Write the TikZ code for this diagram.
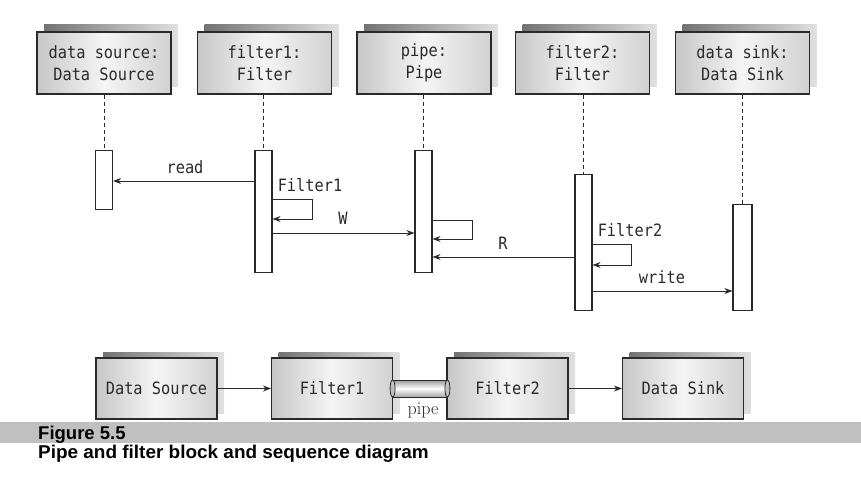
\documentclass[tikz,border=0pt]{standalone}
\usepackage{fontspec}
\newfontfamily\diagfont[FakeStretch=0.9]{DejaVu Sans Mono}
\newfontfamily\capfont{Liberation Sans}
\usetikzlibrary{arrows.meta,shadows}
\definecolor{ink}{HTML}{2A2A2A}
\definecolor{band}{HTML}{C0C0C0}
\begin{document}
\begin{tikzpicture}[x=1pt,y=-1pt,
  txt/.style={font=\diagfont\fontsize{17}{22}\selectfont, text=ink},
  boxshade/.style={left color=black!22, right color=black!18, middle color=black!4},
  objbox/.style={draw=ink, line width=1.1pt, boxshade, minimum width=134pt, minimum height=62pt,
    align=center, inner sep=0pt, txt,
    general shadow={shadow xshift=7pt, shadow yshift=7pt, left color=black!55, right color=black!12}},
  blk/.style={draw=ink, line width=1.1pt, boxshade, minimum width=121pt, minimum height=61pt,
    inner sep=0pt, txt,
    general shadow={shadow xshift=7pt, shadow yshift=6pt, left color=black!55, right color=black!12}},
  act/.style={draw=ink, line width=1.1pt, fill=white, minimum width=17pt, inner sep=0pt, anchor=north},
  life/.style={draw=ink, line width=1pt, dash pattern=on 4pt off 3pt},
  msg/.style={draw=ink, line width=1pt, -{Stealth[length=8pt,width=6pt]}},
  lbl/.style={txt, inner sep=0pt},
  captext/.style={font=\capfont\bfseries\fontsize{18.5}{20}\selectfont, inner sep=0pt, anchor=base west},
  pipebody/.style={draw=ink, line width=0.8pt, top color=black!40, bottom color=black!35, middle color=white, inner sep=0pt}
]
\useasboundingbox (0,0) rectangle (861,492);
\fill[white] (0,0) rectangle (861,492);

% object boxes
\node[objbox] (ds) at (104,63) {data source:\\Data Source};
\node[objbox] (f1) at (264.5,63) {filter1:\\Filter};
\node[objbox] (pp) at (424,63) {pipe:\\Pipe};
\node[objbox] (f2) at (582.5,63) {filter2:\\Filter};
\node[objbox] (sk) at (742.5,63) {data sink:\\Data Sink};

% activations
\node[act, minimum height=59pt] (dsA) at (104,150) {};
\node[act, minimum height=122pt] (f1A) at (263.5,150) {};
\node[act, minimum height=122pt] (pA) at (423.5,150) {};
\node[act, minimum height=136pt] (f2A) at (583.5,174) {};
\node[act, minimum height=106pt, minimum width=19pt] (skA) at (742.5,204) {};

% lifelines
\draw[life] (dsA.north |- ds.south) -- (dsA.north);
\draw[life] (f1A.north |- f1.south) -- (f1A.north);
\draw[life] (pA.north |- pp.south) -- (pA.north);
\draw[life] (f2A.north |- f2.south) -- (f2A.north);
\draw[life] (skA.north |- sk.south) -- (skA.north);

% message rows
\coordinate (y181) at (0,181);
\coordinate (y199) at (0,199);
\coordinate (y219) at (0,219);
\coordinate (y233) at (0,233);
\coordinate (y220) at (0,220);
\coordinate (y239) at (0,239);
\coordinate (y257) at (0,257);
\coordinate (y244) at (0,244);
\coordinate (y265) at (0,265);
\coordinate (y291) at (0,291);

\draw[msg] (f1A.west |- y181) -- (dsA.east |- y181);
\draw[msg] (f1A.east |- y199) -- ++(40,0) -- ++(0,20) -- (f1A.east |- y219);
\draw[msg] (f1A.east |- y233) -- (pA.west |- y233);
\draw[msg] (pA.east |- y220) -- ++(40,0) -- ++(0,19) -- (pA.east |- y239);
\draw[msg] (f2A.west |- y257) -- (pA.east |- y257);
\draw[msg] (f2A.east |- y244) -- ++(39,0) -- ++(0,21) -- (f2A.east |- y265);
\draw[msg] (f2A.east |- y291) -- (skA.west |- y291);

\node[lbl] (lread) at (185,167) {read};
\node[lbl] (lf1) at (310,185) {Filter1};
\node[lbl] (lw) at (343,218) {W};
\node[lbl] (lr) at (503,243) {R};
\node[lbl] (lf2) at (630,230) {Filter2};
\node[lbl] (lwrite) at (662,277) {write};

% block diagram
\node[blk] (bDS) at (156.5,388.5) {Data Source};
\node[blk] (bF1) at (332,388.5) {Filter1};
\node[blk] (bF2) at (507.5,388.5) {Filter2};
\node[blk] (bSk) at (683,388.5) {Data Sink};
\draw[msg] (bDS) -- (bF1);
\draw[msg] (bF2) -- (bSk);

\node[pipebody, minimum width=54pt, minimum height=17pt] (pc) at (420,388.5) {};
\draw[draw=ink, line width=0.8pt, fill=black!25] (pc.west) ellipse (2.5pt and 8.5pt);
\draw[draw=ink, line width=0.8pt, fill=black!25] (pc.east) ellipse (2.5pt and 8.5pt);
\node[inner sep=0pt, anchor=base, font=\fontsize{18}{20}\selectfont, text=ink] (lpipe) at (423,414) {pipe};

% caption
\fill[band] (0,422) rectangle (861,443);
\node[captext] (c1) at (38,439) {Figure 5.5};
\node[captext] (c2) at (38,458) {\scalebox{1.024}[1]{Pipe and filter block and sequence diagram}};
\end{tikzpicture}
\end{document}
